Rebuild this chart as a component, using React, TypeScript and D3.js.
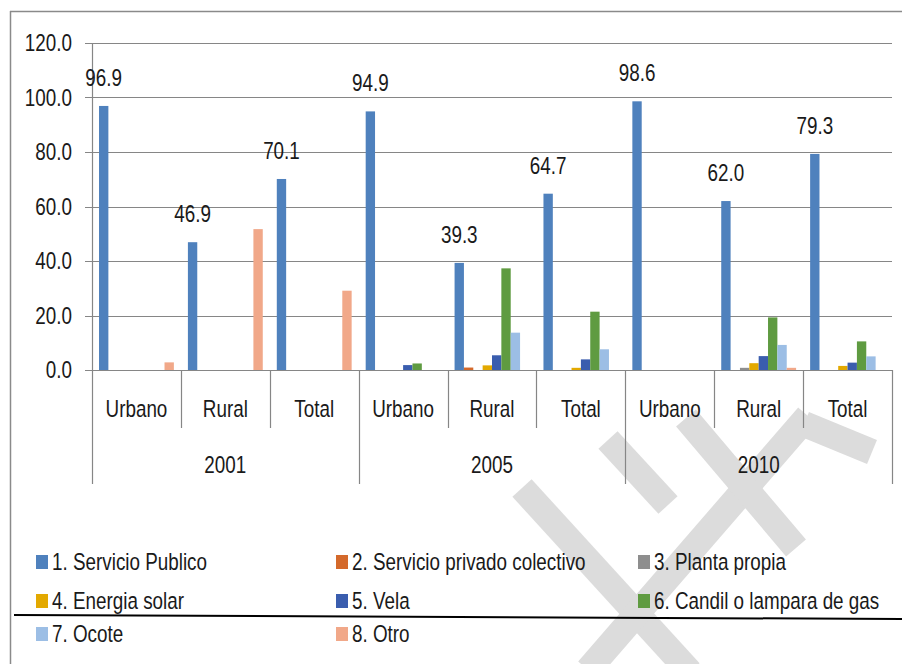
import React from "react";
import * as d3 from "d3";

const years = ["2001", "2005", "2010"];
const areas = ["Urbano", "Rural", "Total"];
const categories = years.flatMap((y) => areas.map((a) => `${y}-${a}`));

const seriesNames = [
  "1. Servicio Publico",
  "2. Servicio privado colectivo",
  "3. Planta propia",
  "4. Energia solar",
  "5. Vela",
  "6. Candil o lampara de gas",
  "7. Ocote",
  "8. Otro",
];
const s1 = [96.9, 46.9, 70.1, 94.9, 39.3, 64.7, 98.6, 62.0, 79.3];
const s2 = [0, 0, 0, 0, 0.9, 0, 0, 0, 0];
const s3 = [0, 0, 0, 0, 0, 0, 0, 0.8, 0];
const s4 = [0, 0, 0, 0, 1.7, 0.8, 0, 2.5, 1.5];
const s5 = [0, 0, 0, 1.8, 5.4, 3.9, 0, 5.1, 2.7];
const s6 = [0, 0, 0, 2.4, 37.3, 21.4, 0, 19.3, 10.5];
const s7 = [0, 0, 0, 0, 13.7, 7.6, 0, 9.2, 5.0];
const s8 = [2.8, 51.7, 29.1, 0, 0, 0, 0, 0.8, 0];
const seriesValues = [s1, s2, s3, s4, s5, s6, s7, s8];
const colors = ["#4F81BD", "#D4692B", "#8E8E8E", "#E3A900", "#3A5DAE", "#5F9B41", "#9CBEE5", "#F1A889"];
const yTicks = [0, 20, 40, 60, 80, 100, 120];

const FONT = "'Liberation Sans', Arial, sans-serif";

function T(props: { x: number; y: number; anchor?: string; dy?: string; children: React.ReactNode }) {
  const { x, y, anchor, dy, children } = props;
  return (
    <text
      transform={`translate(${x},${y}) scale(0.82,1.02)`}
      textAnchor={anchor || "start"}
      dy={dy}
      fontFamily={FONT}
      fontSize={23}
      fill="#1a1a1a"
    >
      {children}
    </text>
  );
}

export default function App() {
  const W = 902, H = 664;
  const x0 = 92, x1 = 892, yTop = 43, yBot = 370;
  const x = d3.scaleBand<string>().domain(categories).range([x0, x1]).padding(0);
  const xs = d3
    .scaleBand<number>()
    .domain(d3.range(seriesNames.length))
    .range([0, x.bandwidth()])
    .paddingInner(0)
    .paddingOuter(0.75);
  const y = d3.scaleLinear().domain([0, 120]).range([yBot, yTop]);
  const yearW = x.bandwidth() * 3;
  const grid = "#868686";

  const legendCols = [36, 336, 638];
  const legendRows = [562, 601, 634];

  return (
    <div style={{ position: "absolute", left: 0, top: 0 }}>
      <svg width={W} height={H} style={{ display: "block" }}>
        <rect x={0} y={0} width={W} height={H} fill="#fff" />
        {/* watermark */}
        <g stroke="#dcdcdc" strokeWidth={26} fill="none" strokeLinecap="butt">
          <line x1={522} y1={488} x2={690} y2={672} />
          <line x1={588} y1={670} x2={808} y2={416} />
          <line x1={686} y1={418} x2={796} y2={548} />
          <line x1={608} y1={440} x2={668} y2={505} />
          <line x1={804} y1={424} x2={872} y2={452} />
        </g>
        {/* outer border */}
        <line x1={10.5} y1={11} x2={10.5} y2={H} stroke="#8a8a8a" strokeWidth={1.5} />
        <line x1={10} y1={11.5} x2={W} y2={11.5} stroke="#8a8a8a" strokeWidth={1.5} />
        {/* gridlines */}
        {yTicks.map((t) => (
          <g key={t}>
            <line x1={85} x2={x1} y1={Math.round(y(t)) + 0.5} y2={Math.round(y(t)) + 0.5} stroke={grid} strokeWidth={1.2} />
            <T x={72} y={y(t)} dy="0.36em" anchor="end">
              {t.toFixed(1)}
            </T>
          </g>
        ))}
        {/* y axis */}
        <line x1={x0 + 0.5} x2={x0 + 0.5} y1={yTop} y2={484} stroke={grid} strokeWidth={1.2} />
        {/* category separators */}
        {categories.map((c, i) => {
          const xr = (x(c) as number) + x.bandwidth();
          const isYear = (i + 1) % 3 === 0;
          return (
            <line
              key={"sep" + c}
              x1={Math.round(xr) + 0.5}
              x2={Math.round(xr) + 0.5}
              y1={yBot}
              y2={isYear ? 484 : 428}
              stroke={grid}
              strokeWidth={1.2}
            />
          );
        })}
        {/* bars */}
        {seriesValues.map((vals, si) =>
          vals.map((v, ci) =>
            v > 0 ? (
              <rect
                key={`b${si}-${ci}`}
                x={(x(categories[ci]) as number) + (xs(si) as number)}
                y={y(v)}
                width={xs.bandwidth()}
                height={yBot - y(v)}
                fill={colors[si]}
              />
            ) : null
          )
        )}
        {/* data labels */}
        {s1.map((v, ci) => (
          <T
            key={"dl" + ci}
            x={(x(categories[ci]) as number) + (xs(0) as number) + xs.bandwidth() / 2}
            y={y(v) - 20}
            anchor="middle"
          >
            {v.toFixed(1)}
          </T>
        ))}
        {/* category labels */}
        {categories.map((c, i) => (
          <T key={"cl" + c} x={(x(c) as number) + x.bandwidth() / 2} y={417} anchor="middle">
            {areas[i % 3]}
          </T>
        ))}
        {years.map((yr, i) => (
          <T key={"yr" + yr} x={x0 + yearW * i + yearW / 2} y={473} anchor="middle">
            {yr}
          </T>
        ))}
        {/* legend */}
        {seriesNames.map((n, i) => {
          const col = i % 3;
          const row = Math.floor(i / 3);
          const lx = legendCols[col];
          const ly = legendRows[row];
          return (
            <g key={"lg" + i}>
              <rect x={lx} y={ly - 7} width={12} height={14} fill={colors[i]} />
              <T x={lx + 16} y={ly} dy="0.36em">
                {n}
              </T>
            </g>
          );
        })}
        <line x1={14} y1={615} x2={W} y2={619} stroke="#000" strokeWidth={2} />
      </svg>
    </div>
  );
}
